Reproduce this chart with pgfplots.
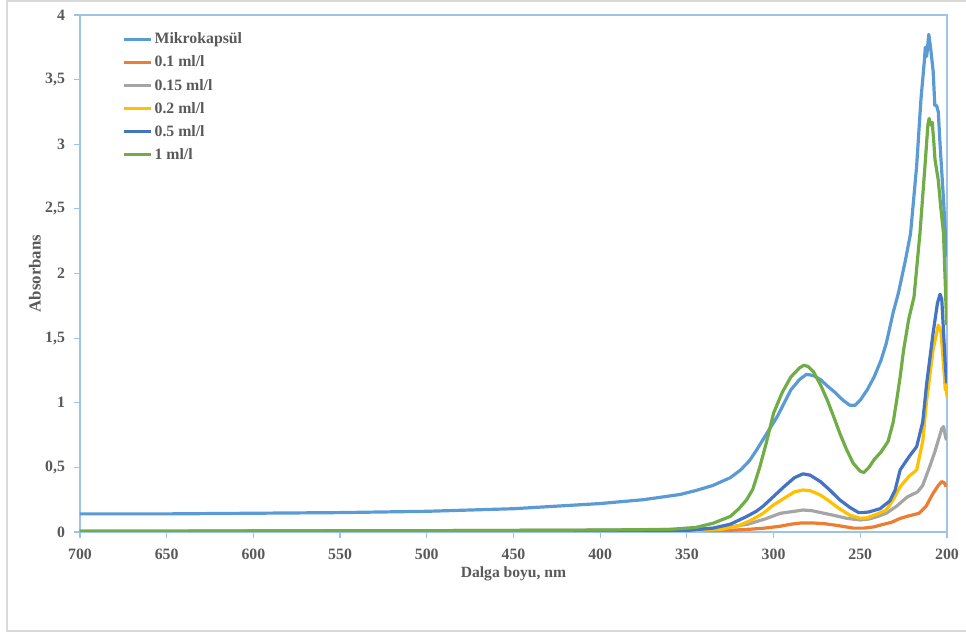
\documentclass[border=0pt]{standalone}
\usepackage{pgfplots}
\pgfplotsset{compat=1.18}
\usepackage{fontspec}
\setmainfont{Liberation Serif}
\definecolor{cmik}{HTML}{5B9BD5}
\definecolor{cor}{HTML}{ED7D31}
\definecolor{cgr}{HTML}{A5A5A5}
\definecolor{cye}{HTML}{FFC000}
\definecolor{cdb}{HTML}{4472C4}
\definecolor{cgn}{HTML}{70AD47}
\definecolor{axblue}{HTML}{9DC3E6}
\definecolor{txt}{HTML}{595959}
\definecolor{frm}{HTML}{D9D9D9}
\begin{document}
\begin{tikzpicture}
\useasboundingbox (-40pt,-51.5pt) rectangle (443pt,266pt);
\draw[frm, line width=0.8pt] (-36.5pt,-49.5pt) rectangle (446pt,265.5pt);
\begin{axis}[
  at={(0,0)}, anchor=south west,
  scale only axis, width=433.5pt, height=258.5pt,
  x dir=reverse,
  xmin=200, xmax=700, ymin=0, ymax=4,
  xtick={200,250,...,700}, ytick={0,0.5,...,4},
  axis line style={axblue, line width=0.8pt},
  tick style={axblue, line width=0.6pt},
  major tick length=3pt,
  tick align=outside, tick pos=left,
  /pgf/number format/assume math mode=true,
  /pgf/number format/use comma,
  ticklabel style={font=\fontsize{7.9}{9}\selectfont\bfseries, text=txt},
  yticklabel style={xshift=-1pt},
  xticklabel style={yshift=-2pt},
  xlabel={Dalga boyu, nm}, ylabel={Absorbans},
  xlabel style={font=\fontsize{7.8}{9}\selectfont\bfseries, text=txt, at={(axis description cs:0.5,-0.081)}, anchor=center},
  ylabel style={font=\fontsize{8.4}{9}\selectfont\bfseries, text=txt, at={(axis description cs:-0.052,0.5)}, anchor=center},
  legend style={at={(axis description cs:0.042,0.979)}, anchor=north west, draw=none, fill=none,
    font=\fontsize{7.9}{9}\selectfont\bfseries, text=txt, row sep=2.45pt,
    nodes={inner sep=0.8pt, text height=6pt, text depth=1.5pt}},
  legend cell align=left,
  legend image code/.code={\draw[#1, line width=1.6pt] (0pt,0pt) -- (13.5pt,0pt);},
  every axis plot/.append style={line width=1.6pt, line join=round},
]
\addplot[cmik] coordinates {
(700,0.14)(650,0.14)(600,0.145)(550,0.15)(500,0.16)(450,0.18)(400,0.22)(375,0.25)(354,0.29)(345,0.32)(335,0.36)(325,0.42)(319,0.48)(314,0.55)(310,0.63)(304,0.76)(298,0.89)(290,1.10)(285,1.18)(281,1.22)(277,1.21)(273,1.18)(269,1.13)(265,1.085)(260,1.02)(256,0.98)(253,0.98)(250,1.02)(246,1.10)(242,1.20)(238,1.33)(235,1.46)(231,1.70)(228,1.85)(224,2.10)(221,2.31)(217.5,2.83)(215,3.35)(213,3.65)(212.5,3.75)(211.7,3.68)(210.5,3.85)(209.5,3.75)(208,3.57)(207,3.30)(206,3.30)(205,3.25)(204,3.0)(202,2.57)(200.2,2.13)};
\addlegendentry{Mikrokapsül}
\addplot[cor] coordinates {
(700,0.001)(500,0.003)(400,0.005)(330,0.01)(315,0.02)(305,0.03)(296,0.045)(290,0.06)(284,0.07)(278,0.07)(271,0.065)(263,0.05)(254,0.03)(248,0.03)(242,0.04)(238,0.055)(232,0.075)(227,0.105)(222,0.125)(216,0.145)(212,0.2)(208,0.30)(205,0.36)(203,0.39)(201.5,0.38)(200.5,0.35)};
\addlegendentry{0.1 ml/l}
\addplot[cgr] coordinates {
(700,0.005)(600,0.007)(500,0.01)(400,0.015)(350,0.02)(330,0.03)(315,0.06)(305,0.10)(296,0.145)(288,0.16)(283,0.17)(278,0.165)(271,0.145)(264,0.125)(258,0.106)(250,0.093)(245,0.10)(240,0.12)(235,0.145)(229,0.2)(223,0.27)(217,0.31)(214,0.36)(210,0.505)(207,0.62)(205,0.71)(203,0.80)(202,0.815)(201,0.75)(200.3,0.71)};
\addlegendentry{0.15 ml/l}
\addplot[cye] coordinates {
(700,0.002)(500,0.004)(400,0.006)(350,0.01)(330,0.02)(320,0.05)(313,0.09)(306,0.145)(300,0.21)(294,0.26)(288,0.31)(283,0.325)(279,0.32)(273,0.286)(268,0.24)(262,0.18)(256,0.13)(250,0.106)(246,0.11)(240,0.14)(235,0.17)(231,0.25)(227,0.35)(222,0.43)(217.5,0.48)(214,0.70)(211.7,1.02)(208,1.41)(205,1.60)(203.5,1.55)(202,1.30)(201,1.10)(200.4,1.15)(200,1.04)};
\addlegendentry{0.2 ml/l}
\addplot[cdb] coordinates {
(700,0.003)(600,0.005)(500,0.006)(400,0.008)(350,0.012)(335,0.03)(325,0.06)(315.5,0.12)(310,0.16)(306,0.20)(302,0.25)(294,0.35)(288,0.42)(283,0.45)(279,0.44)(273,0.39)(268,0.33)(262,0.25)(256,0.19)(251,0.15)(249,0.15)(245,0.155)(238.6,0.18)(233,0.24)(230,0.32)(227,0.48)(222,0.58)(217.5,0.66)(214,0.85)(211.7,1.15)(208,1.54)(205.5,1.77)(204,1.84)(203,1.80)(202,1.55)(201,1.30)(200.2,1.15)};
\addlegendentry{0.5 ml/l}
\addplot[cgn] coordinates {
(700,0.005)(600,0.008)(500,0.01)(400,0.015)(360,0.02)(345,0.035)(335,0.067)(325,0.12)(320,0.18)(315.5,0.25)(312,0.33)(308,0.50)(304,0.70)(300,0.92)(295,1.08)(290,1.20)(285,1.27)(282.5,1.29)(280,1.28)(277,1.24)(273,1.14)(269,1.02)(265,0.88)(261.7,0.76)(258,0.64)(254,0.53)(250,0.47)(248,0.46)(245,0.50)(242,0.56)(238,0.62)(234,0.70)(231,0.85)(229,1.02)(227,1.2)(225,1.41)(222,1.65)(219,1.82)(215.6,2.31)(212.7,2.83)(211,3.15)(210.3,3.20)(209.5,3.15)(208.5,3.17)(207.5,3.0)(206.9,2.88)(205,2.72)(203.5,2.5)(202,2.31)(200.8,1.85)(200.2,1.6)};
\addlegendentry{1 ml/l}
\end{axis}
\end{tikzpicture}
\end{document}
